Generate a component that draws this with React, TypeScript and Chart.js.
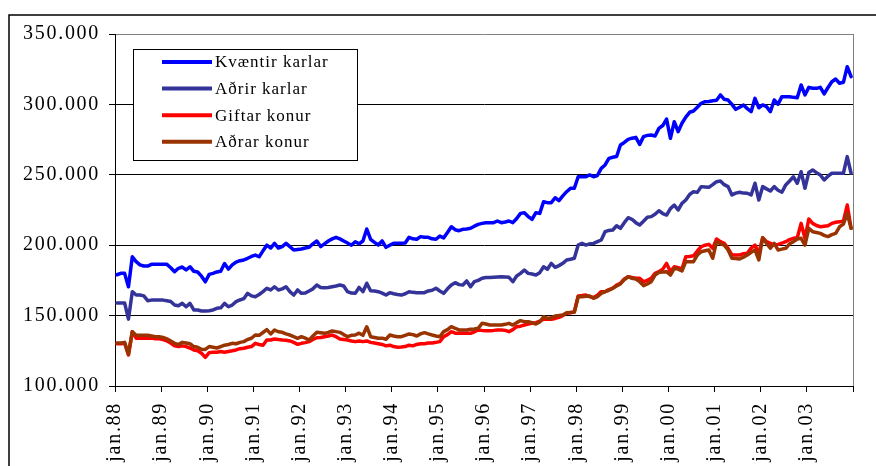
import React, { useEffect, useRef } from 'react';
import { Chart, registerables } from 'chart.js';

Chart.register(...registerables);

// Monthly series, Jan 1988 – Dec 2003 (values in thousands)
const xTickLabels = ['jan.88', 'jan.89', 'jan.90', 'jan.91', 'jan.92', 'jan.93', 'jan.94', 'jan.95',
  'jan.96', 'jan.97', 'jan.98', 'jan.99', 'jan.00', 'jan.01', 'jan.02', 'jan.03'];
const yTickLabels = ['100.000', '150.000', '200.000', '250.000', '300.000', '350.000'];

const seriesNames = ['Kvæntir karlar', 'Aðrir karlar', 'Giftar konur', 'Aðrar konur'];
const seriesColors = ['#0000FF', '#333399', '#FF0000', '#993300'];

const kvaentirKarlar = [
  179, 180, 180, 170.5, 191.8, 188.3, 186, 185.2, 185.2, 186.4,
  186.4, 186.4, 186.4, 186.4, 184, 181.2, 183.6, 184.5, 182.4, 184.7,
  181.5, 181, 178, 174, 179.3, 180, 181, 181.5, 187, 183,
  186, 188, 189, 189.5, 190.7, 192, 193, 191.8, 196, 200,
  198, 201.3, 198, 199, 201.3, 199, 196.6, 197, 197.3, 198,
  198.5, 201, 203, 199, 201, 203, 204.5, 205.6, 204.5, 203,
  201.5, 200, 202.5, 201, 203, 211.5, 204.2, 202, 200.1, 203,
  198.5, 200, 201.3, 201.3, 201.3, 201.5, 205.6, 204.5, 204.2, 206.1,
  205.6, 205.6, 204.5, 204.2, 206.5, 205.2, 209, 213.1, 211, 210.3,
  211.3, 211.5, 212, 213.5, 214.8, 215.5, 216, 216, 216, 217.2,
  216, 216.5, 217.2, 216, 219, 222.6, 223, 220.3, 218.4, 223.1,
  222.6, 230.9, 230.2, 230.2, 233.7, 231.6, 235, 238, 240.4, 240.4,
  248.6, 248.6, 248.6, 249.9, 248.6, 249.5, 254.6, 257, 261.7, 262.5,
  263, 271.2, 273, 275.2, 276, 276.6, 271.6, 277.1, 278, 278.3,
  277.6, 283, 285, 289.6, 275.9, 287.7, 280.6, 286.6, 291, 294.4,
  295.3, 298, 300.8, 301.9, 302, 302.6, 303, 306.7, 303.6, 303.1,
  300, 296.5, 298, 299.6, 297, 294.8, 304.3, 297.6, 299.6, 298.4,
  294.8, 303.1, 300.1, 305.5, 305.5, 305.5, 305, 304.8, 313.8, 306.7,
  312.1, 311.5, 311.4, 312.1, 307.4, 312, 316.1, 318, 315, 315.7,
  326.8, 319.7,
];

const adrirKarlar = [
  159, 159, 159, 147.5, 167, 164.6, 164.6, 164, 160.6, 161,
  161, 161, 161, 160.6, 160, 157.5, 157, 158.7, 156.3, 158.7,
  154, 154, 153.3, 153.3, 153.5, 154, 155.2, 155.5, 158.7, 156.3,
  157.5, 159.9, 161.1, 162, 165.8, 164, 163.4, 165, 167, 169.4,
  168.2, 170.5, 168.2, 169, 170.5, 167, 164.6, 168.2, 165.8, 166,
  167.5, 169, 171.7, 170, 169.8, 170, 170.5, 171, 171.7, 171,
  167, 166, 165.8, 170, 167, 173, 167.7, 167.5, 167, 166,
  164.6, 166.3, 165.5, 165, 164.6, 165.5, 167, 166.5, 166.3, 166.3,
  166.3, 167.5, 168, 169.4, 167.5, 165.8, 169, 171.7, 173.4, 172,
  171.7, 174.6, 170.5, 174.1, 175, 176.5, 177, 177, 177.2, 177.4,
  177.6, 177.4, 177.2, 174.1, 178.1, 180, 182.4, 180, 179.5, 178.8,
  180.5, 184.7, 182.9, 187.1, 184.3, 185.5, 187.1, 189.5, 190, 190.7,
  200.1, 201.3, 200.1, 201, 201.3, 202.5, 203.7, 209.6, 210.5, 210.8,
  213.8, 212, 216, 219.5, 218.4, 216, 214.3, 217, 219.8, 220.3,
  222, 224.5, 222.5, 221.4, 226, 228.5, 225, 229.7, 232.1, 236,
  238, 237.5, 241.6, 241.4, 241.1, 243, 245.1, 245.6, 243, 241.6,
  235.7, 237, 237.6, 237, 236.9, 235.7, 244, 232.1, 241.6, 240,
  238.5, 241.6, 239, 237.6, 242.8, 245.6, 248.6, 244, 252.2, 240.4,
  251.7, 253.4, 251.5, 249.9, 246.3, 249, 251.1, 251.1, 251.1, 251.1,
  262.9, 251.1,
];

const giftarKonur = [
  130, 130, 130.5, 122, 138.6, 134, 134, 134, 134, 134,
  133.5, 133.5, 133, 132, 130.5, 128.6, 128, 128.5, 128, 127,
  125.6, 125, 123.2, 120.4, 123.7, 124, 124, 124.5, 124, 124.5,
  125, 125.6, 126.5, 126.8, 127.5, 128, 130.3, 129.5, 129, 132.7,
  132.7, 133.4, 133, 132.7, 132.5, 132, 131, 129.6, 130.3, 130.8,
  131.5, 133, 134.3, 134.5, 135, 135.5, 136.2, 135, 133.4, 133,
  132.7, 132, 131.5, 132, 131.5, 132, 131, 130.5, 130, 129.5,
  128.5, 129, 128, 127.5, 127.7, 128, 129, 128.5, 129.5, 130,
  130, 130.5, 130.5, 131, 131.5, 135, 136.5, 138.6, 137.5, 137.4,
  137.4, 137.4, 137.4, 138.5, 139.8, 139.5, 139.3, 139.3, 139.5, 139.8,
  139.8, 139.5, 138.6, 140, 142.1, 142.5, 143.3, 144, 144.5, 145,
  146, 147.4, 147.4, 147.4, 148, 148.8, 150, 151.6, 152, 152.8,
  163.9, 164.2, 164.6, 163.4, 162.9, 164.5, 167, 167, 168.5, 169.4,
  171.7, 173, 176, 177.6, 177, 176.5, 176.5, 174.1, 175, 176.5,
  180, 181.2, 183, 187.1, 181.2, 184.7, 184, 183.1, 191.8, 192,
  192.5, 195.9, 198.9, 200, 200.6, 197.8, 204.4, 202.5, 201.3, 197.8,
  193, 193, 193, 194, 194.2, 198, 200.1, 194.2, 205.3, 202.5,
  201.3, 200.1, 200.6, 201.5, 202.5, 204, 204.9, 205.3, 215.5, 204.9,
  218.6, 215.5, 214, 213.1, 213.5, 213.8, 215.5, 216.3, 216.7, 217,
  228.5, 212,
];

const adrarKonur = [
  130.5, 130.5, 131, 122.5, 138.6, 136, 136, 136, 136, 135.5,
  135, 135, 134.5, 133.5, 132, 130.3, 129.5, 131, 130.5, 130,
  128, 127.5, 126.1, 126, 128, 127.5, 127, 128, 129, 129.5,
  130.3, 130, 131, 131.5, 133, 133.9, 136.2, 136, 138, 140,
  137, 139.8, 138.5, 138.1, 137, 136.2, 135, 133.9, 135, 134,
  132.7, 135.5, 138.1, 137.8, 137.4, 138, 139.1, 138.6, 138.1, 136.5,
  135, 136, 136.2, 137.5, 136, 142.1, 135, 134.5, 133.9, 134,
  133.2, 136.2, 135.5, 135, 135, 136, 137, 136.5, 135.5, 137,
  137.9, 137, 136.2, 135.5, 135, 138.6, 140, 142.1, 141, 139.8,
  139.8, 139.8, 140.3, 140.5, 141, 144.5, 144, 143.3, 143.3, 143.3,
  143.3, 143.8, 144.5, 143.3, 145, 146.4, 145.7, 145.7, 145, 144,
  145.5, 149.2, 148, 148.5, 149.7, 150, 150.4, 152.1, 152.2, 152.3,
  163.4, 163.4, 163.7, 163.9, 162.3, 163.5, 165.8, 167, 168, 169.4,
  171, 172.5, 175.5, 177.6, 176.5, 176, 174.1, 171.3, 172.5, 174.1,
  178.8, 180.7, 181, 181.2, 178.8, 183.6, 183, 181.7, 188.3, 188.3,
  188.3, 193, 195.4, 196, 196.6, 190.7, 202.5, 201, 200.1, 196.6,
  190.7, 190.5, 190.2, 191.5, 193, 195, 196.6, 189.5, 205.3, 201.3,
  197.8, 201.3, 196.6, 197.2, 197.8, 201, 202.5, 204.4, 204.9, 200.1,
  212, 209.6, 209, 208.4, 207, 206.1, 207.5, 208.4, 213.1, 215,
  222.6, 212,
];

const seriesValues = [kvaentirKarlar, adrirKarlar, giftarKonur, adrarKonur];

const FONT = '"Liberation Serif", "Times New Roman", serif';

const framePlugin = {
  id: 'frame',
  beforeDraw(chart: any) {
    const ctx = chart.ctx;
    ctx.save();
    ctx.fillStyle = '#ffffff';
    ctx.fillRect(0, 0, chart.width, chart.height);
    ctx.strokeStyle = '#000000';
    ctx.lineWidth = 1.5;
    ctx.strokeRect(9, 15, chart.width + 50, chart.height + 50);
    ctx.restore();
    (ctx as any).letterSpacing = '1.7px';
  },
};

const legendPlugin = {
  id: 'boxLegend',
  afterDraw(chart: any) {
    const ctx = chart.ctx;
    ctx.save();
    (ctx as any).letterSpacing = '1px';
    const bx = 133.5, by = 49.5, bw = 224, bh = 111;
    ctx.fillStyle = '#ffffff';
    ctx.fillRect(bx, by, bw, bh);
    ctx.strokeStyle = '#000000';
    ctx.lineWidth = 1;
    ctx.strokeRect(bx, by, bw, bh);
    chart.data.datasets.forEach((ds: any, i: number) => {
      const y = 62 + i * 26.6;
      ctx.strokeStyle = ds.borderColor;
      ctx.lineWidth = 4;
      ctx.lineCap = 'butt';
      ctx.beginPath();
      ctx.moveTo(162, y);
      ctx.lineTo(212, y);
      ctx.stroke();
      ctx.fillStyle = '#000000';
      ctx.font = `17px ${FONT}`;
      ctx.textAlign = 'left';
      ctx.textBaseline = 'middle';
      ctx.fillText(ds.label, 215, y + 1);
    });
    ctx.restore();
  },
};

export default function App() {
  const ref = useRef<HTMLCanvasElement | null>(null);

  useEffect(() => {
    if (!ref.current) return;
    const datasets = seriesNames.map((name, s) => ({
      label: name,
      data: seriesValues[s].map((v, i) => ({ x: i + 0.5, y: v * 1000 })),
      borderColor: seriesColors[s],
      backgroundColor: seriesColors[s],
      borderWidth: 3.5,
      pointRadius: 0,
      tension: 0,
      fill: false,
      borderJoinStyle: 'round' as const,
      borderCapStyle: 'round' as const,
      order: 3 - s,
    }));

    const chart = new Chart(ref.current, {
      type: 'line',
      data: { datasets },
      options: {
        animation: false,
        responsive: false,
        devicePixelRatio: 1,
        layout: { padding: { top: 34, right: 23, left: 0, bottom: 0 } },
        plugins: { legend: { display: false }, tooltip: { enabled: false } },
        scales: {
          x: {
            type: 'linear',
            min: 0,
            max: 192,
            afterFit: (s: any) => {
              s.height = 80;
              s.paddingLeft = 0;
              s.paddingRight = 0;
            },
            ticks: {
              stepSize: 12,
              maxTicksLimit: 50,
              autoSkip: false,
              minRotation: 90,
              maxRotation: 90,
              padding: 10,
              color: '#000',
              font: { family: FONT, size: 20 },
              callback: (v: any) => {
                const k = Number(v) / 12;
                return xTickLabels[k] ?? '';
              },
            },
            grid: {
              color: (c: any) => (c.tick && c.tick.value === 192 ? '#808080' : 'rgba(0,0,0,0)'),
              tickColor: '#000',
              tickLength: 6,
              lineWidth: 1,
            },
            border: { color: '#000', width: 1 },
          },
          y: {
            min: 100000,
            max: 350000,
            afterFit: (s: any) => {
              s.width = 115;
              s.paddingTop = 0;
              s.paddingBottom = 0;
            },
            ticks: {
              stepSize: 50000,
              padding: 9,
              color: '#000',
              font: { family: FONT, size: 20 },
              callback: (_v: any, i: number) => yTickLabels[i],
            },
            grid: {
              color: (c: any) => (c.tick && c.tick.value === 350000 ? '#808080' : '#000'),
              tickColor: '#000',
              tickLength: 6,
              lineWidth: 1,
            },
            border: { color: '#000', width: 1 },
          },
        },
      },
      plugins: [framePlugin, legendPlugin],
    });
    return () => chart.destroy();
  }, []);

  return (
    <div style={{ position: 'absolute', left: 0, top: 0, width: 876, height: 466, overflow: 'hidden' }}>
      <canvas ref={ref} width={876} height={466} style={{ display: 'block' }} />
    </div>
  );
}
